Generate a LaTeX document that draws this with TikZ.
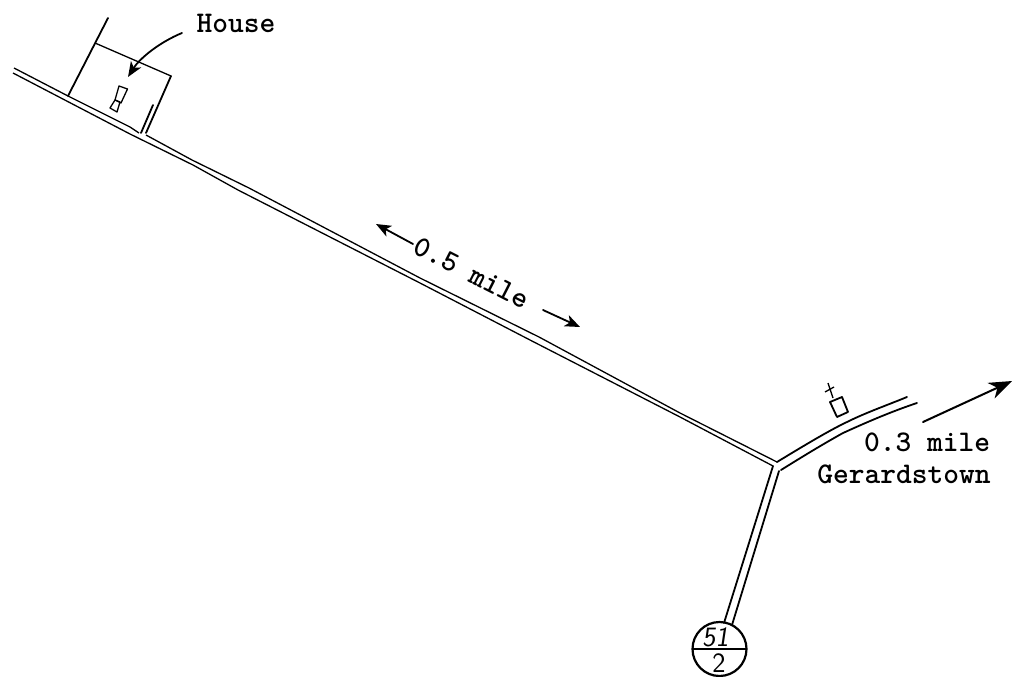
\documentclass[tikz,border=0pt]{standalone}
\usepackage{tikz}
\usetikzlibrary{arrows.meta}
\tikzset{
  pen/.style={line width=1.8pt,line join=round,line cap=round},
  thinpen/.style={line width=1.3pt,line join=round},
  pointer/.style={pen,-{Stealth[length=15pt,width=12pt,inset=4pt]}},
  bigpointer/.style={line width=2pt,line cap=round,-{Stealth[length=23pt,width=17pt,inset=7pt]}},
  typed/.style={inner sep=0pt,font=\fontsize{30}{30}\selectfont\ttfamily\bfseries},
  hand/.style={inner sep=0pt,font=\fontsize{28}{28}\selectfont\sffamily}
}
\begin{document}
\begin{tikzpicture}[x=1pt,y=1pt,yscale=-1,xscale=1]
  \useasboundingbox (0,0) rectangle (1020,677);

  %long road
  \draw [thinpen] (14,68) -- (68,96) -- (130,127) -- (139,133);
  \draw [thinpen] (146,135) -- (192,160) -- (249,188) -- (420,278) -- (539,337) -- (680,413) -- (777,462);
  \draw [thinpen] (13,73) -- (130,134) -- (193,165) -- (238,190) -- (420,283) -- (530,340) -- (680,417) -- (773,466);
  %road to Gerardstown
  \draw [pen] (777,462) .. controls (805,445) and (830,430) .. (847,422) .. controls (865,413) and (885,406) .. (907,397);
  \draw [pen] (781,470) .. controls (805,455) and (825,443) .. (843,433) .. controls (865,423) and (890,412) .. (917,403);
  %road to the route marker
  \draw [pen] (773,466) -- (724,623);
  \draw [pen] (779,471) -- (732,625);

  %lot
  \draw [pen] (68,96) -- (108,18);
  \draw [thinpen] (95,43) -- (171,76);
  \draw [pen] (171,76) -- (146,133);
  \draw [pen] (153,105) -- (141,133);
  %house
  \draw [thinpen] (119,86) -- (127.5,89) -- (121,103) -- (115,100) -- cycle;
  \draw [thinpen] (115,100) -- (120,102) -- (117,112) -- (110,108) -- cycle;

  %church
  \draw [pen] (830,402) -- (842,397) -- (848,412) -- (837,417) -- cycle;
  \draw [thinpen] (828,383) -- (833,398);
  \draw [thinpen] (825,392) -- (834,387);

  %route marker
  \draw [line width=2.2pt] (719.5,649) circle (27);
  \draw [line width=2.2pt] (692,649) -- (747,649);
  \node [hand,xslant=0.15] (top51) at (717,637) {51};
  \node [hand] (bottom2) at (719,663) {2};

  % Text Node
  \node [typed] (house) at (236,23) {House};
  \node [typed,rotate=-27] (half) at (472,273) {0.5 mile};
  \node [typed] (third) at (927,442) {0.3 mile};
  \node [typed] (town) at (904,474) {Gerardstown};

  %arrows
  \draw [pointer] (182,33) .. controls (160,42) and (140,58) .. (128,77);
  \draw [pointer] (413,244) -- (376,224);
  \draw [pointer] (543,310) -- (580,327);
  \draw [bigpointer] (923,422) -- (1012,381);
\end{tikzpicture}
\end{document}
